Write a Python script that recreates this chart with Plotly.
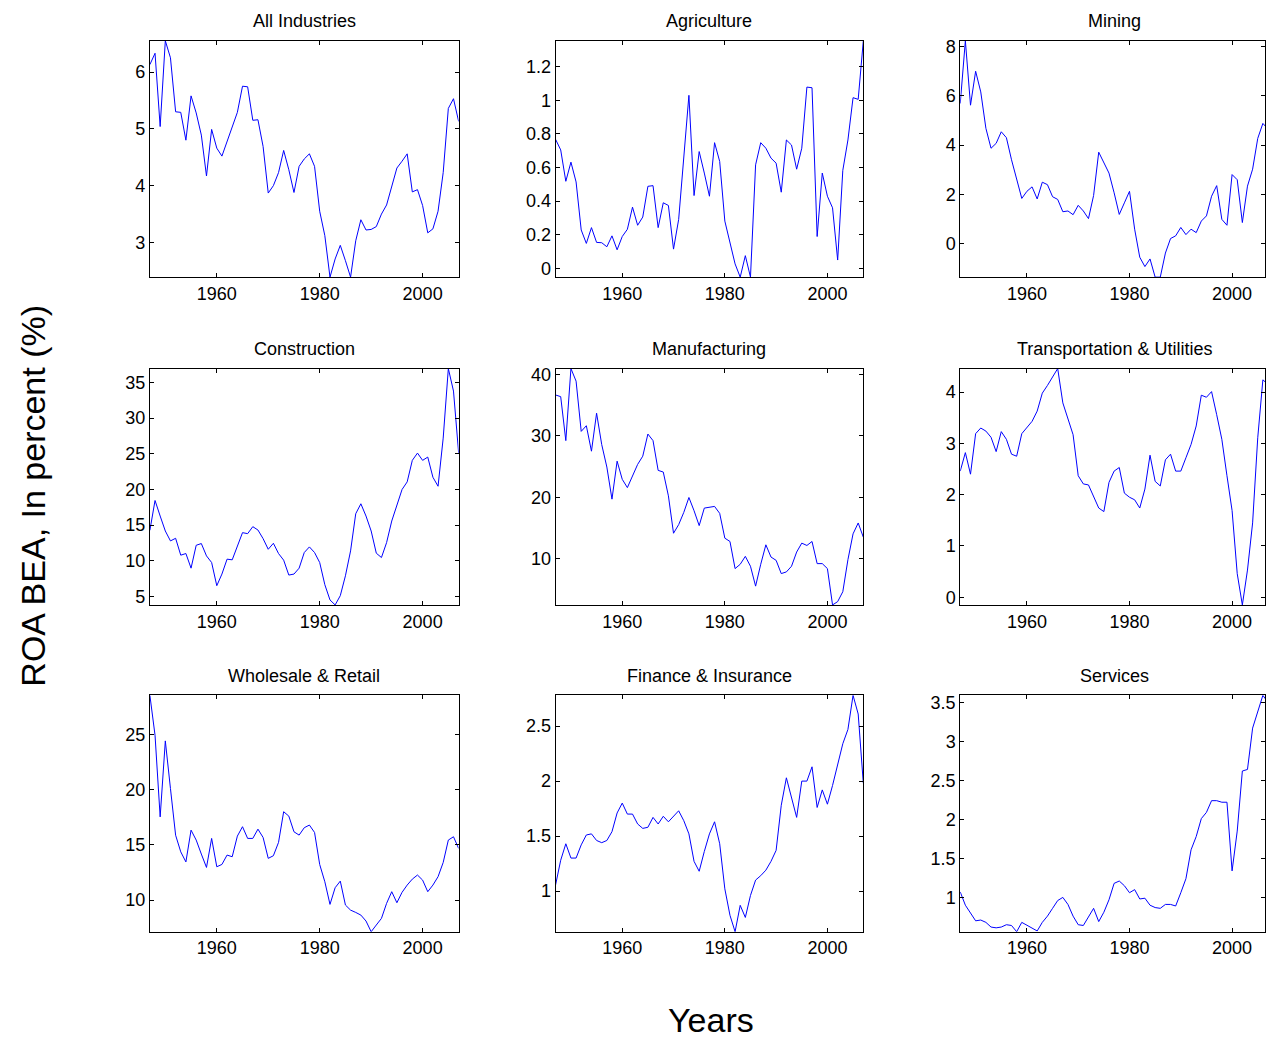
import plotly.graph_objects as go

years = list(range(1947, 2008))

titles = ["All Industries", "Agriculture", "Mining",
          "Construction", "Manufacturing", "Transportation & Utilities",
          "Wholesale & Retail", "Finance & Insurance", "Services"]

all_industries = [6.13, 6.33, 5.04, 6.55, 6.25, 5.30, 5.29, 4.80, 5.58, 5.28,
                  4.89, 4.17, 4.99, 4.66, 4.52, 4.78, 5.06, 5.29, 5.75, 5.74,
                  5.15, 5.16, 4.69, 3.87, 4.00, 4.23, 4.62, 4.28, 3.88, 4.34,
                  4.47, 4.56, 4.34, 3.55, 3.12, 2.39, 2.71, 2.95, 2.68, 2.39,
                  3.03, 3.40, 3.22, 3.23, 3.28, 3.50, 3.66, 3.97, 4.31, 4.43,
                  4.56, 3.89, 3.93, 3.65, 3.17, 3.24, 3.55, 4.23, 5.36, 5.53, 5.13]

agriculture = [0.768, 0.705, 0.518, 0.632, 0.514, 0.228, 0.148, 0.242, 0.154, 0.152,
               0.128, 0.193, 0.110, 0.189, 0.232, 0.364, 0.256, 0.305, 0.488, 0.492,
               0.242, 0.390, 0.374, 0.114, 0.291, 0.646, 1.030, 0.433, 0.695, 0.567,
               0.429, 0.748, 0.636, 0.281, 0.154, 0.026, -0.053, 0.075, -0.053, 0.616,
               0.748, 0.715, 0.656, 0.626, 0.453, 0.764, 0.734, 0.590, 0.715, 1.079,
               1.075, 0.189, 0.567, 0.429, 0.360, 0.049, 0.583, 0.764, 1.016, 1.006, 1.355]

mining = [5.69, 8.24, 5.62, 7.00, 6.16, 4.68, 3.87, 4.07, 4.54, 4.30,
          3.40, 2.59, 1.83, 2.12, 2.30, 1.81, 2.49, 2.39, 1.90, 1.79,
          1.29, 1.32, 1.17, 1.55, 1.32, 1.01, 1.95, 3.71, 3.27, 2.86,
          2.06, 1.18, 1.65, 2.12, 0.58, -0.56, -0.94, -0.63, -1.37, -1.37,
          -0.39, 0.20, 0.31, 0.65, 0.36, 0.58, 0.44, 0.91, 1.12, 1.92,
          2.35, 0.98, 0.74, 2.80, 2.59, 0.85, 2.33, 3.02, 4.27, 4.88, 4.65]

construction = [14.26, 18.44, 16.26, 14.16, 12.77, 13.14, 10.77, 11.00, 8.95, 12.16,
                12.40, 10.67, 9.74, 6.49, 8.12, 10.21, 10.12, 12.16, 13.93, 13.79,
                14.77, 14.30, 13.09, 11.60, 12.44, 11.00, 10.07, 7.98, 8.12, 8.95,
                11.14, 11.93, 11.14, 9.74, 6.63, 4.49, 3.79, 5.09, 7.88, 11.37,
                16.58, 17.98, 16.26, 14.16, 11.05, 10.44, 12.53, 15.56, 17.79, 19.98,
                21.05, 24.07, 25.09, 24.07, 24.53, 21.70, 20.44, 27.19, 36.95, 33.79, 25.09]

manufacturing = [36.67, 36.40, 29.25, 40.97, 38.92, 30.75, 31.67, 27.53, 33.71, 28.60,
                 24.95, 19.73, 25.91, 22.96, 21.61, 23.49, 25.38, 26.72, 30.32, 29.25,
                 24.41, 24.14, 20.27, 14.19, 15.59, 17.58, 20.00, 17.85, 15.43, 18.28,
                 18.39, 18.55, 17.42, 13.39, 12.85, 8.44, 9.14, 10.43, 8.82, 5.59,
                 9.14, 12.31, 10.32, 9.78, 7.63, 7.90, 8.82, 11.13, 12.58, 12.20,
                 12.85, 9.25, 9.25, 8.44, 2.53, 3.07, 4.68, 9.89, 14.09, 15.86, 13.55]

transport_utilities = [2.46, 2.82, 2.40, 3.19, 3.30, 3.24, 3.12, 2.84, 3.23, 3.08,
                       2.79, 2.75, 3.19, 3.30, 3.43, 3.63, 3.98, 4.13, 4.30, 4.46,
                       3.79, 3.50, 3.17, 2.37, 2.21, 2.19, 1.98, 1.74, 1.67, 2.24,
                       2.46, 2.53, 2.03, 1.95, 1.90, 1.74, 2.11, 2.77, 2.26, 2.17,
                       2.68, 2.79, 2.46, 2.46, 2.72, 2.98, 3.34, 3.94, 3.90, 4.01,
                       3.56, 3.08, 2.37, 1.69, 0.46, -0.15, 0.53, 1.45, 3.11, 4.24, 4.15]

wholesale_retail = [28.56, 24.94, 17.54, 24.43, 20.11, 15.88, 14.37, 13.46, 16.34, 15.44,
                    14.17, 12.96, 15.59, 13.02, 13.23, 14.08, 13.93, 15.80, 16.65, 15.59,
                    15.59, 16.43, 15.68, 13.78, 14.02, 15.23, 18.01, 17.61, 16.19, 15.89,
                    16.56, 16.80, 16.13, 13.23, 11.66, 9.61, 11.12, 11.72, 9.55, 9.09,
                    8.88, 8.64, 8.10, 7.13, 7.74, 8.34, 9.70, 10.76, 9.76, 10.70,
                    11.36, 11.90, 12.27, 11.81, 10.76, 11.36, 12.12, 13.41, 15.44, 15.74, 14.68]

finance_insurance = [1.055, 1.28, 1.43, 1.30, 1.30, 1.42, 1.51, 1.52, 1.46, 1.44,
                     1.46, 1.54, 1.71, 1.80, 1.70, 1.70, 1.61, 1.57, 1.58, 1.67,
                     1.61, 1.68, 1.63, 1.68, 1.73, 1.64, 1.52, 1.27, 1.18, 1.36,
                     1.52, 1.63, 1.43, 1.02, 0.78, 0.63, 0.87, 0.76, 0.96, 1.10,
                     1.14, 1.19, 1.27, 1.37, 1.78, 2.03, 1.84, 1.67, 2.00, 2.00,
                     2.13, 1.76, 1.92, 1.79, 1.96, 2.16, 2.34, 2.47, 2.78, 2.61, 1.98]

services = [1.07, 0.90, 0.80, 0.70, 0.71, 0.68, 0.62, 0.61, 0.62, 0.65,
            0.64, 0.56, 0.68, 0.64, 0.60, 0.57, 0.68, 0.76, 0.86, 0.96,
            1.00, 0.91, 0.76, 0.65, 0.64, 0.75, 0.86, 0.69, 0.81, 0.97,
            1.18, 1.21, 1.15, 1.06, 1.10, 0.98, 0.99, 0.90, 0.87, 0.86,
            0.91, 0.91, 0.89, 1.06, 1.24, 1.61, 1.78, 2.01, 2.09, 2.24,
            2.24, 2.22, 2.22, 1.34, 1.85, 2.62, 2.64, 3.17, 3.38, 3.59, 3.50]

series = [all_industries, agriculture, mining,
          construction, manufacturing, transport_utilities,
          wholesale_retail, finance_insurance, services]

x_tick_values = [1960, 1980, 2000]
y_tick_values = [
    [3, 4, 5, 6],
    [0, 0.2, 0.4, 0.6, 0.8, 1, 1.2],
    [0, 2, 4, 6, 8],
    [5, 10, 15, 20, 25, 30, 35],
    [10, 20, 30, 40],
    [0, 1, 2, 3, 4],
    [10, 15, 20, 25],
    [1, 1.5, 2, 2.5],
    [1, 1.5, 2, 2.5, 3, 3.5],
]

# ---- layout geometry (pixels) ----
W, H = 1266, 1044
col_px = [(150, 459), (556, 864), (961, 1269)]
row_px = [(37, 275), (367, 605), (696, 934)]

FONT = "Liberation Sans, Arial, Helvetica, sans-serif"

fig = go.Figure()
layout = dict(
    width=W, height=H,
    margin=dict(l=0, r=0, t=0, b=0),
    paper_bgcolor="white", plot_bgcolor="white",
    showlegend=False,
    font=dict(family=FONT, size=18, color="black"),
)
annotations = []

for k, (title, vals) in enumerate(zip(titles, series)):
    r, c = divmod(k, 3)
    n = k + 1
    xa = "xaxis" if n == 1 else f"xaxis{n}"
    ya = "yaxis" if n == 1 else f"yaxis{n}"
    xref = "x" if n == 1 else f"x{n}"
    yref = "y" if n == 1 else f"y{n}"

    x0p, x1p = col_px[c]
    y0p, y1p = row_px[r]
    x_lo, x_hi = years[0], years[-1]
    # clip the right column at the page edge while keeping the same scale
    if x1p > W:
        x_hi = x_lo + (x_hi - x_lo) * (W - x0p) / (x1p - x0p)
        x1p = W
    dom_x = [x0p / W, x1p / W]
    dom_y = [1 - y1p / H, 1 - y0p / H]

    fig.add_trace(go.Scatter(
        x=years, y=vals, mode="lines",
        line=dict(color="#0000ff", width=1),
        xaxis=xref, yaxis=yref, hoverinfo="x+y",
    ))

    common = dict(
        showline=True, linecolor="black", linewidth=1, mirror="ticks",
        ticks="inside", ticklen=4, tickwidth=1, tickcolor="black",
        showgrid=False, zeroline=False,
        tickfont=dict(family=FONT, size=18, color="black"),
        fixedrange=True,
    )
    layout[xa] = dict(
        domain=dom_x, anchor=yref, range=[x_lo, x_hi],
        tickmode="array", tickvals=x_tick_values,
        ticktext=[str(v) for v in x_tick_values], **common,
    )
    layout[ya] = dict(
        domain=dom_y, anchor=xref, range=[min(vals), max(vals)],
        tickmode="array", tickvals=y_tick_values[k],
        ticktext=[f"{v:g}" for v in y_tick_values[k]], **common,
    )

    annotations.append(dict(
        text=title, xref="paper", yref="paper",
        x=(col_px[c][0] + col_px[c][1]) / 2 / W,
        y=1 - (y0p - 19.5) / H,
        xanchor="center", yanchor="middle", showarrow=False,
        font=dict(family=FONT, size=18, color="black"),
    ))

annotations.append(dict(
    text="ROA BEA, In percent (%)", xref="paper", yref="paper",
    x=33 / W, y=1 - 495 / H, textangle=-90,
    xanchor="center", yanchor="middle", showarrow=False,
    font=dict(family=FONT, size=34, color="black"),
))
annotations.append(dict(
    text="Years", xref="paper", yref="paper",
    x=712 / W, y=1 - 1023 / H,
    xanchor="center", yanchor="middle", showarrow=False,
    font=dict(family=FONT, size=34, color="black"),
))
layout["annotations"] = annotations

fig.update_layout(**layout)
fig.write_html(
    "out.html",
    config={"displayModeBar": False},
    post_script=(
        "document.documentElement.style.margin='0';"
        "document.documentElement.style.padding='0';"
        "document.documentElement.style.overflow='hidden';"
        "document.body.style.margin='0';"
        "document.body.style.padding='0';"
        "document.body.style.overflow='hidden';"
    ),
)
